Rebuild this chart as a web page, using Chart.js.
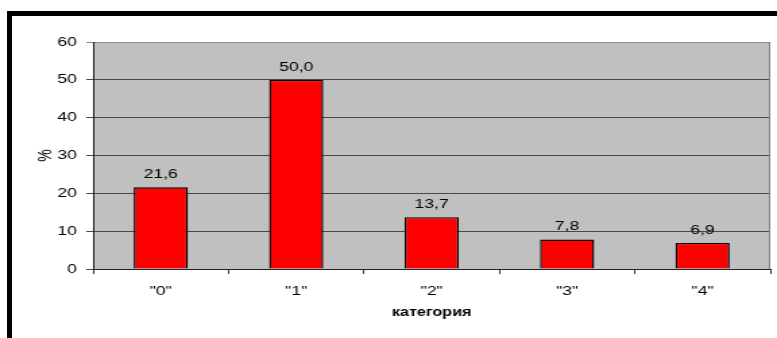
<!DOCTYPE html>
<html>
<head>
<meta charset="utf-8">
<script src="https://cdn.jsdelivr.net/npm/chart.js@4/dist/chart.umd.min.js"></script>
<style>
  html, body { margin: 0; padding: 0; background: #fff; overflow: hidden; }
  #wrap { position: relative; width: 777px; height: 338px; }
  #frame {
    position: absolute; left: 7px; top: 11px; right: -10px; bottom: -10px;
    border-top: 5px solid #000; border-left: 5px solid #000; background: #fff;
  }
  #c { position: absolute; left: 0; top: 0; }
</style>
</head>
<body>
<div id="wrap">
  <div id="frame"></div>
  <!-- drawn on a narrower canvas and widened to the page width -->
  <canvas id="c" width="576" height="338" style="width:777px;height:338px"></canvas>
</div>
<script>
const categories = ['"0"', '"1"', '"2"', '"3"', '"4"'];
const percentValues = [21.6, 50.0, 13.7, 7.8, 6.9];
const yTicks = [0, 10, 20, 30, 40, 50, 60];
const xTitle = 'категория';
const yTitle = '%';

const FONT = "'Liberation Sans', Arial, sans-serif";

const plotBackground = {
  id: 'plotBackground',
  beforeDraw(chart) {
    const { ctx, chartArea: a } = chart;
    ctx.save();
    ctx.fillStyle = '#c0c0c0';
    ctx.fillRect(a.left, a.top, a.right - a.left, a.bottom - a.top);
    ctx.restore();
  },
  afterDraw(chart) {
    const { ctx, chartArea: a } = chart;
    ctx.save();
    ctx.strokeStyle = '#808080';
    ctx.lineWidth = 1;
    ctx.beginPath();
    ctx.moveTo(a.right - 0.5, a.top);
    ctx.lineTo(a.right - 0.5, a.bottom);
    ctx.stroke();
    ctx.restore();
  }
};

const valueLabels = {
  id: 'valueLabels',
  afterDatasetsDraw(chart) {
    const { ctx } = chart;
    const meta = chart.getDatasetMeta(0);
    ctx.save();
    ctx.font = '13px ' + FONT;
    ctx.fillStyle = '#000';
    ctx.textAlign = 'center';
    ctx.textBaseline = 'alphabetic';
    meta.data.forEach((bar, i) => {
      const txt = percentValues[i].toFixed(1).replace('.', ',');
      ctx.fillText(txt, bar.x, bar.y - 9);
    });
    ctx.restore();
  }
};

new Chart(document.getElementById('c'), {
  type: 'bar',
  data: {
    labels: categories,
    datasets: [{
      data: percentValues,
      backgroundColor: '#ff0000',
      borderColor: '#000000',
      borderWidth: 1.4,
      barPercentage: 0.4,
      categoryPercentage: 1.0
    }]
  },
  options: {
    responsive: false,
    animation: false,
    devicePixelRatio: 1,
    layout: { padding: { left: 0, top: 42, right: 5, bottom: 0 } },
    plugins: { legend: { display: false }, tooltip: { enabled: false } },
    scales: {
      x: {
        offset: true,
        grid: { offset: true, drawOnChartArea: false, drawTicks: true, tickLength: 5, color: '#333' },
        border: { color: '#222', width: 1 },
        ticks: { color: '#000', font: { family: FONT, size: 13 }, padding: 10 },
        title: { display: true, text: xTitle, color: '#000',
                 font: { family: FONT, size: 12, weight: 'bold' }, padding: { top: 0, bottom: 18 } },
        afterFit(scale) { scale.height = 69; }
      },
      y: {
        min: 0, max: 60,
        afterBuildTicks(scale) { scale.ticks = yTicks.map(v => ({ value: v })); },
        grid: {
          tickLength: 5,
          color: ctx => (ctx.tick && ctx.tick.value === 60) ? '#8c8c8c' : '#4a4a4a'
        },
        border: { color: '#222', width: 1 },
        ticks: { color: '#000', font: { family: FONT, size: 13 }, padding: 7 },
        title: { display: true, text: yTitle, color: '#000',
                 font: { family: FONT, size: 14 }, padding: { top: 26, bottom: 0 } },
        afterFit(scale) { scale.width = 69; }
      }
    }
  },
  plugins: [plotBackground, valueLabels]
});
</script>
</body>
</html>
